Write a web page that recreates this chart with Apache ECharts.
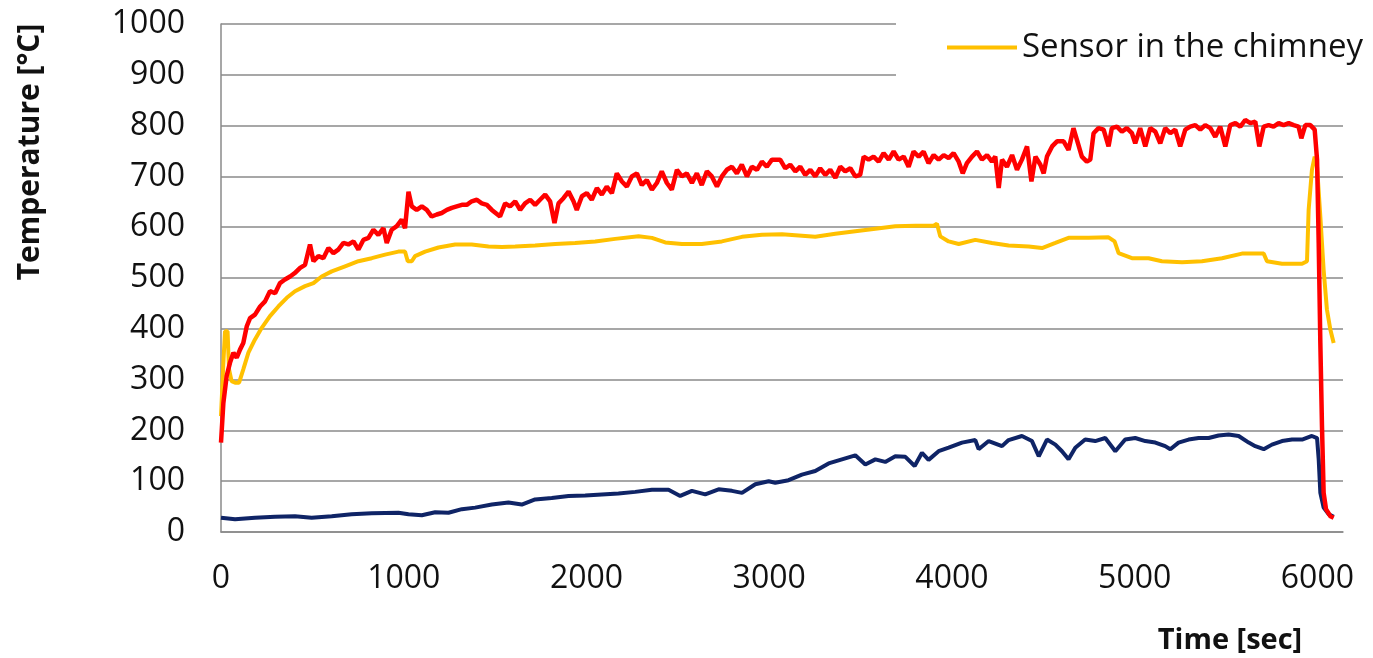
<!DOCTYPE html>
<html>
<head>
<meta charset="utf-8">
<script src="https://cdn.jsdelivr.net/npm/echarts@6/dist/echarts.min.js"></script>
<style>
html,body{margin:0;padding:0;background:#fff;}
#chart{width:1373px;height:658px;}
</style>
</head>
<body>
<div id="chart"></div>
<script>
// [time (sec), temperature (°C)]
const furnaceSeries = [[0,176],[13,254],[31,307],[49,333],[68,353],[86,343],[104,359],[122,372],[141,405],[159,421],[186,428],[214,444],[241,454],[268,474],[296,470],[323,490],[350,497],[378,503],[405,510],[433,520],[460,526],[487,566],[506,533],[533,543],[560,539],[588,559],[615,549],[642,556],[670,569],[697,566],[725,572],[752,556],[779,575],[807,579],[834,595],[861,585],[889,598],[907,569],[934,595],[962,602],[989,615],[1007,598],[1026,670],[1044,641],[1071,634],[1099,641],[1126,634],[1153,621],[1181,625],[1208,628],[1236,634],[1263,638],[1290,641],[1318,644],[1345,644],[1372,651],[1400,654],[1427,647],[1455,644],[1482,634],
[1527,621],[1555,647],[1582,641],[1610,651],[1637,634],[1664,647],[1692,654],[1719,644],[1746,654],[1774,664],[1801,651],[1825,608],[1847,647],[1874,657],[1902,670],[1929,651],[1947,634],[1975,661],[2002,667],[2029,654],[2057,677],[2084,664],[2111,680],[2139,667],[2166,706],[2194,690],[2221,680],[2248,700],[2276,706],[2303,683],[2330,693],[2358,674],[2385,687],[2412,710],[2440,687],[2467,674],[2495,713],[2522,700],[2549,706],[2577,687],[2604,706],[2631,683],[2659,710],[2686,700],[2714,680],[2741,700],[2768,713],[2796,719],[2823,706],[2850,723],[2878,700],[2905,719],[2933,713],[2960,729],[2987,719],[3015,733],
[3060,733],[3088,716],[3115,723],[3143,710],[3170,719],[3197,703],[3225,713],[3252,700],[3279,716],[3307,703],[3334,713],[3362,697],[3389,719],[3416,710],[3444,716],[3471,700],[3498,703],[3517,739],[3544,733],[3571,739],[3599,729],[3626,746],[3654,733],[3681,749],[3708,733],[3736,739],[3763,719],[3790,749],[3818,739],[3845,749],[3872,726],[3900,742],[3927,733],[3955,742],[3982,736],[4009,746],[4037,729],[4059,706],[4082,726],[4110,739],[4137,749],[4164,733],[4192,742],[4219,729],[4237,739],[4256,677],[4274,733],[4301,719],[4329,742],[4356,713],[4383,733],[4411,759],[4435,690],[4457,739],[4484,723],[4502,706],[4520,739],[4548,759],[4575,769],
[4611,769],[4638,752],[4665,795],[4684,772],[4711,739],[4738,729],[4757,733],[4775,785],[4802,795],[4830,792],[4857,759],[4875,795],[4903,798],[4930,788],[4957,795],[4985,785],[5003,765],[5030,795],[5058,759],[5085,795],[5113,788],[5140,765],[5167,795],[5195,785],[5222,792],[5249,759],[5277,792],[5304,798],[5332,801],[5359,792],[5386,801],[5414,795],[5441,778],[5468,798],[5496,759],[5523,801],[5551,805],[5578,798],[5605,811],[5633,805],[5660,808],[5682,759],[5706,798],[5733,801],[5760,798],[5788,805],[5815,801],[5843,805],[5870,801],[5897,798],[5912,775],[5934,801],[5961,801],[5985,792],[5998,733],[6007,569],[6016,372],[6025,208],[6034,77],[6047,45],[6071,31],[6089,28]];

const chimneySeries = [[0,228],[13,333],[22,395],[36,395],[44,320],[58,297],[77,294],[99,294],[122,320],[150,353],[186,379],[223,402],[268,425],[314,444],[360,461],[405,474],[460,484],[506,490],[551,503],[606,513],[679,523],[752,533],[825,539],[898,546],[971,552],[1007,552],[1022,533],[1044,533],[1062,543],[1117,552],[1190,560],[1281,566],[1372,566],[1464,562],[1537,561],[1610,562],[1719,564],[1829,567],[1938,569],[2048,572],[2157,577],[2285,582],[2358,579],[2431,570],[2522,567],[2631,567],[2741,572],[2851,581],[2960,585],[3070,586],[3143,584],[3252,581],[3362,587],[3471,592],[3581,597],[3690,602],[3800,603],[3900,603],[3918,607],[3936,582],[3982,572],[4037,567],[4128,575],[4219,569],[4310,564],[4420,562],[4493,559],[4566,569],[4638,579],[4748,579],[4857,580],[4890,572],[4912,549],[4985,539],[5076,539],[5149,533],[5259,531],[5368,533],[5478,539],[5587,548],[5706,548],[5724,533],[5806,528],[5916,528],[5943,533],[5952,634],[5970,713],[5985,739],[5998,719],[6016,621],[6034,516],[6052,438],[6071,398],[6089,372]];

const wallSeries = [[0,28],[77,25],[186,28],[296,30],[405,31],[496,28],[606,31],[715,35],[825,37],[971,38],[1026,35],[1099,33],[1172,39],[1245,38],[1318,45],[1391,48],[1482,54],[1573,58],[1646,54],[1719,64],[1810,67],[1902,71],[1993,72],[2084,74],[2175,76],[2267,79],[2358,83],[2449,83],[2513,71],[2577,81],[2650,74],[2723,84],[2796,81],[2851,77],[2924,94],[2997,100],[3033,97],[3106,102],[3179,113],[3252,120],[3325,135],[3398,143],[3471,151],[3526,133],[3581,143],[3635,138],[3690,149],[3745,148],[3796,130],[3836,156],[3872,142],[3927,159],[3982,166],[4055,176],[4128,181],[4146,163],[4201,179],[4274,169],[4310,181],[4383,189],[4438,179],[4475,149],[4520,182],[4566,172],[4602,159],[4638,143],[4675,166],[4729,182],[4784,179],[4839,185],[4894,159],[4948,182],[5003,185],[5058,179],[5113,176],[5167,169],[5195,163],[5240,176],[5295,182],[5350,185],[5405,185],[5459,190],[5514,192],[5569,189],[5624,176],[5660,169],[5706,163],[5751,172],[5806,179],[5861,182],[5916,182],[5970,189],[5998,185],[6007,143],[6016,77],[6034,48],[6062,35],[6089,30]];

const seriesNames = ['Sensor in the chimney', 'Sensor on the wall', 'Sensor in the furnace'];
const legendItems = ['Sensor in the chimney'];
const xTitle = 'Time [sec]';
const yTitle = 'Temperature [°C]';

const FONT = '"Open Sans", "Noto Sans", sans-serif';
const plain = v => String(v);
const chart = echarts.init(document.getElementById('chart'));
chart.setOption({
  animation: false,
  backgroundColor: '#fff',
  grid: { left: 221, right: 30, top: 24, bottom: 126 },
  legend: {
    data: legendItems,
    orient: 'vertical',
    left: 896,
    top: 0,
    padding: [31, 30, 36, 51],
    backgroundColor: '#fff',
    icon: 'rect',
    itemWidth: 70,
    itemHeight: 4,
    textStyle: { fontFamily: FONT, fontSize: 33, color: '#111' }
  },
  xAxis: {
    type: 'value',
    min: 0,
    max: 6140,
    interval: 1000,
    axisLine: { show: true, lineStyle: { color: '#8a8a8a', width: 1.5 } },
    axisTick: { show: false },
    splitLine: { show: false },
    axisLabel: { showMaxLabel: false, margin: 31, fontFamily: FONT, fontSize: 32, color: '#111', formatter: plain }
  },
  yAxis: {
    type: 'value',
    min: 0,
    max: 1000,
    interval: 100,
    axisLine: { show: true, lineStyle: { color: '#8a8a8a', width: 1.5 } },
    axisTick: { show: false },
    splitLine: { show: true, lineStyle: { color: '#8a8a8a', width: 1.5 } },
    axisLabel: { margin: 36, fontFamily: FONT, fontSize: 32, color: '#111', formatter: plain }
  },
  graphic: [
    {
      type: 'text', x: 30, y: 152, rotation: Math.PI / 2,
      style: { text: yTitle, fill: '#111', font: 'bold 30px ' + FONT, textAlign: 'center', textVerticalAlign: 'middle', align: 'center', verticalAlign: 'middle' }
    },
    {
      type: 'text', x: 1230, y: 641,
      style: { text: xTitle, fill: '#111', font: 'bold 29px ' + FONT, textAlign: 'center', textVerticalAlign: 'middle', align: 'center', verticalAlign: 'middle' }
    }
  ],
  series: [
    { name: seriesNames[0], type: 'line', data: chimneySeries, showSymbol: false, symbol: 'none',
      lineStyle: { color: '#FFC000', width: 4 }, itemStyle: { color: '#FFC000' } },
    { name: seriesNames[1], type: 'line', data: wallSeries, showSymbol: false, symbol: 'none',
      lineStyle: { color: '#0F2466', width: 4 }, itemStyle: { color: '#0F2466' } },
    { name: seriesNames[2], type: 'line', data: furnaceSeries, showSymbol: false, symbol: 'none',
      lineStyle: { color: '#FF0000', width: 4.5 }, itemStyle: { color: '#FF0000' } }
  ]
});
</script>
</body>
</html>
